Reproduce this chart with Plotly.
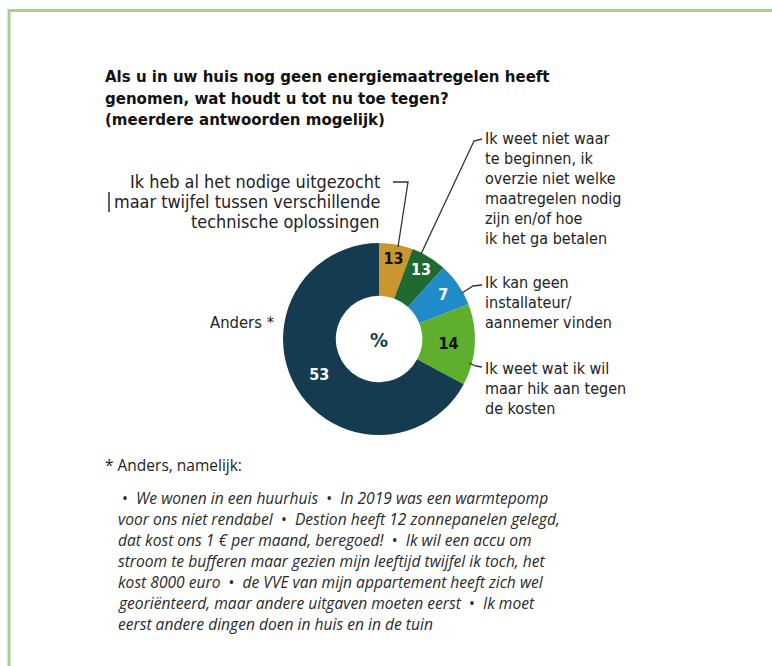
import plotly.graph_objects as go

# ---------------- data ----------------
categories = [
    "Ik heb al het nodige uitgezocht maar twijfel tussen verschillende technische oplossingen",
    "Ik weet niet waar te beginnen, ik overzie niet welke maatregelen nodig zijn en/of hoe ik het ga betalen",
    "Ik kan geen installateur/aannemer vinden",
    "Ik weet wat ik wil maar hik aan tegen de kosten",
    "Anders *",
]
printed_values = [13, 13, 7, 14, 53]            # numbers printed in the slices (%)
slice_shares = [5.7, 6.0, 7.4, 13.7, 67.2]      # slice sizes as drawn in the graphic
slice_colors = ["#C9962F", "#1F6A30", "#1F8BC9", "#5FAE2E", "#143B50"]
value_text_colors = ["#111111", "#FFFFFF", "#FFFFFF", "#111111", "#FFFFFF"]

title_lines = [
    "Als u in uw huis nog geen energiemaatregelen heeft",
    "genomen, wat houdt u tot nu toe tegen?",
    "(meerdere antwoorden mogelijk)",
]
label_lines = [
    ["Ik heb al het nodige uitgezocht", "maar twijfel tussen verschillende", "technische oplossingen"],
    ["Ik weet niet waar", "te beginnen, ik", "overzie niet welke", "maatregelen nodig",
     "zijn en/of hoe", "ik het ga betalen"],
    ["Ik kan geen", "installateur/", "aannemer vinden"],
    ["Ik weet wat ik wil", "maar hik aan tegen", "de kosten"],
    ["Anders *"],
]
footnote_head = "* Anders, namelijk:"
B = "\u00a0•\u00a0\u00a0"
S = "\u00a0\u00a0•\u00a0\u00a0"
footnote_lines = [
    B + "<i>We wonen in een huurhuis</i>" + S + "<i>In 2019 was een warmtepomp</i>",
    "<i>voor ons niet rendabel</i>" + S + "<i>Destion heeft 12 zonnepanelen gelegd,</i>",
    "<i>dat kost ons 1 € per maand, beregoed!</i>" + S + "<i>Ik wil een accu om</i>",
    "<i>stroom te bufferen maar gezien mijn leeftijd twijfel ik toch, het</i>",
    "<i>kost 8000 euro</i>" + S + "<i>de VVE van mijn appartement heeft zich wel</i>",
    "<i>georiënteerd, maar andere uitgaven moeten eerst</i>" + S + "<i>Ik moet</i>",
    "<i>eerst andere dingen doen in huis en in de tuin</i>",
]

# ---------------- layout helpers ----------------
W, H = 772, 666
def px(x, y):
    return x / W, 1 - y / H

COND = "Liberation Sans Narrow, DejaVu Sans Condensed, Roboto, Arial Narrow, sans-serif"
BODY = "Open Sans, Noto Sans, sans-serif"
TXT = "#222222"

cx, cy, R = 379, 339, 96
x0, y1 = px(cx - R, cy - R)
x1, y0 = px(cx + R, cy + R)

fig = go.Figure(go.Pie(
    labels=categories,
    values=slice_shares,
    text=[str(v) for v in printed_values],
    texttemplate="<b>%{text}</b>",
    textinfo="text",
    textposition="inside",
    insidetextorientation="horizontal",
    textfont=dict(family=COND, size=16, color=value_text_colors),
    marker=dict(colors=slice_colors, line=dict(width=0)),
    hole=0.45,
    sort=False,
    direction="clockwise",
    rotation=0,
    showlegend=False,
    hoverinfo="label+text",
    domain=dict(x=[x0, x1], y=[y0, y1]),
))

ann = []
def add(text, x, y, xanchor="left", yanchor="middle", size=15.5, family=COND, color=TXT, align="left"):
    ax, ay = px(x, y)
    ann.append(dict(text=text, x=ax, y=ay, xref="paper", yref="paper", xanchor=xanchor,
                    yanchor=yanchor, showarrow=False, align=align,
                    font=dict(family=family, size=size, color=color)))

def add_block(lines, x, y_first, step=20, **kw):
    for i, t in enumerate(lines):
        add(t, x, y_first + i * step, **kw)

# title
add("<b>" + "<br>".join(title_lines) + "</b>", 103, 97, size=16.7, color="#111111")
# slice labels
add_block(label_lines[0], 382, 182, xanchor="right", align="right", size=17.9)
add_block(label_lines[1], 483, 138, size=16)
add_block(label_lines[2], 483, 282, size=16)
add_block(label_lines[3], 483, 368, size=16)
add_block(label_lines[4], 276, 322, xanchor="right", align="right", size=16.5)
# centre
add("<b>%</b>", cx, cy + 1, xanchor="center", size=20, color="#143B50")
# footnote
add(footnote_head, 103, 465, size=15.5, family=BODY, color="#222222")
add_block(footnote_lines, 116, 498, step=21, size=15.6, family=BODY, color="#2a2a2a")

def path(points):
    d = ""
    for i, (x, y) in enumerate(points):
        X, Y = px(x, y)
        d += ("M" if i == 0 else "L") + f"{X:.5f},{Y:.5f} "
    return d

LC = "#333333"
shapes = [
    dict(type="path", path=path([(393, 182), (408, 182), (398, 247)]), line=dict(color=LC, width=1.3)),
    dict(type="path", path=path([(421, 254), (474, 141), (482, 139)]), line=dict(color=LC, width=1.3)),
    dict(type="path", path=path([(462, 293), (473, 286), (482, 285)]), line=dict(color=LC, width=1.3)),
    dict(type="path", path=path([(469, 363), (476, 366), (482, 367)]), line=dict(color=LC, width=1.3)),
    # caret artefact
    dict(type="path", path=path([(109, 192), (109, 212)]), line=dict(color="#1a2a50", width=1.5)),
    # green frame (top and left)
    dict(type="path", path=path([(9, 666), (9, 10.5), (772, 10.5)]), line=dict(color="#A9D18E", width=3)),
]
for s in shapes:
    s.update(xref="paper", yref="paper")

fig.update_layout(
    width=W, height=H,
    margin=dict(l=0, r=0, t=0, b=0),
    paper_bgcolor="white", plot_bgcolor="white",
    annotations=ann, shapes=shapes,
)

fig.write_html("out.html", config={"displayModeBar": False},
               post_script="document.body.style.margin='0';document.body.style.overflow='hidden';")
